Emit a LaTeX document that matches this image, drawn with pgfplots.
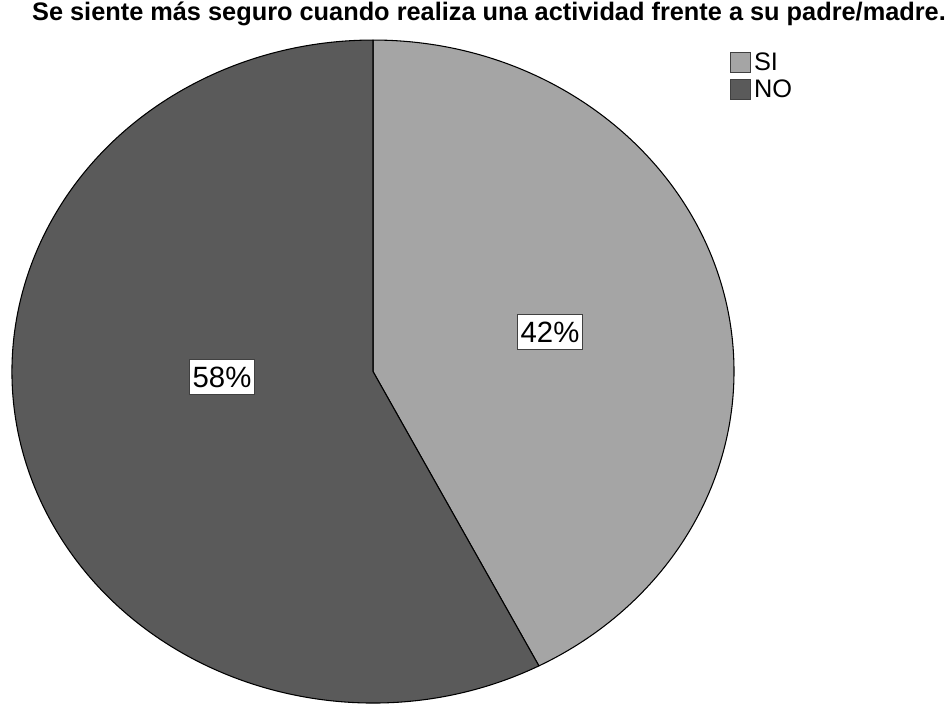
\documentclass[border=0pt]{standalone}
\usepackage{pgfplots}
\usepackage{pgfplotstable}
\pgfplotsset{compat=1.18}
\usepackage{fontspec}
\setmainfont{Liberation Sans}
\definecolor{siC}{HTML}{A5A5A5}
\definecolor{noC}{HTML}{5A5A5A}
\pgfplotstableread{
label value
SI 42.4
NO 57.6
}\piedata
\begin{document}
\begin{tikzpicture}
\pgfplotstablegetelem{0}{value}\of\piedata \pgfmathsetmacro\vSI{\pgfplotsretval}
\pgfplotstablegetelem{1}{value}\of\piedata \pgfmathsetmacro\vNO{\pgfplotsretval}
\pgfmathsetmacro\aA{90}
\pgfmathsetmacro\aB{90-3.6*\vSI}
\pgfmathsetmacro\aC{\aB-3.6*\vNO}
\begin{axis}[name=ax, width=711pt, height=528pt, scale only axis, hide axis,
  xmin=0, xmax=948, ymin=0, ymax=704, y dir=reverse, clip=true,
  legend style={at={(axis cs:730,51)}, anchor=north west, draw=none, fill=none,
    font=\fontsize{19}{21}\selectfont, row sep=3.5pt, inner sep=0pt,
    nodes={inner xsep=2pt, inner ysep=1pt}},
  legend cell align=left,
  legend image code/.code={\draw[#1] (0pt,-7.5pt) rectangle (15pt,7.5pt);},
]
\addlegendimage{fill=siC, draw=black!75, line width=0.8pt}
\addlegendentry{SI}
\addlegendimage{fill=noC, draw=black!75, line width=0.8pt}
\addlegendentry{NO}
\filldraw[fill=siC, draw=black, line width=0.8pt, line join=round]
  (axis cs:373,371.5) -- ++(\aA:270.75pt and 248.6pt) arc[start angle=\aA, end angle=\aB, x radius=270.75pt, y radius=248.6pt] -- cycle;
\filldraw[fill=noC, draw=black, line width=0.8pt, line join=round]
  (axis cs:373,371.5) -- ++(\aB:270.75pt and 248.6pt) arc[start angle=\aB, end angle=\aC, x radius=270.75pt, y radius=248.6pt] -- cycle;
\node[fill=white, draw=black!75, line width=0.7pt, inner xsep=2.5pt, inner ysep=5.5pt, font=\fontsize{22}{24}\selectfont] at (axis cs:550,332) {42\%};
\node[fill=white, draw=black!75, line width=0.7pt, inner xsep=2.5pt, inner ysep=5.5pt, font=\fontsize{22}{24}\selectfont] at (axis cs:222,377) {58\%};
\node[font=\bfseries\fontsize{19}{22}\selectfont, anchor=center] at (axis cs:489,14) {Se siente más seguro cuando realiza una actividad frente a su padre/madre.};
\end{axis}
\pgfresetboundingbox
\path (ax.south west) rectangle (ax.north east);
\end{tikzpicture}
\end{document}
